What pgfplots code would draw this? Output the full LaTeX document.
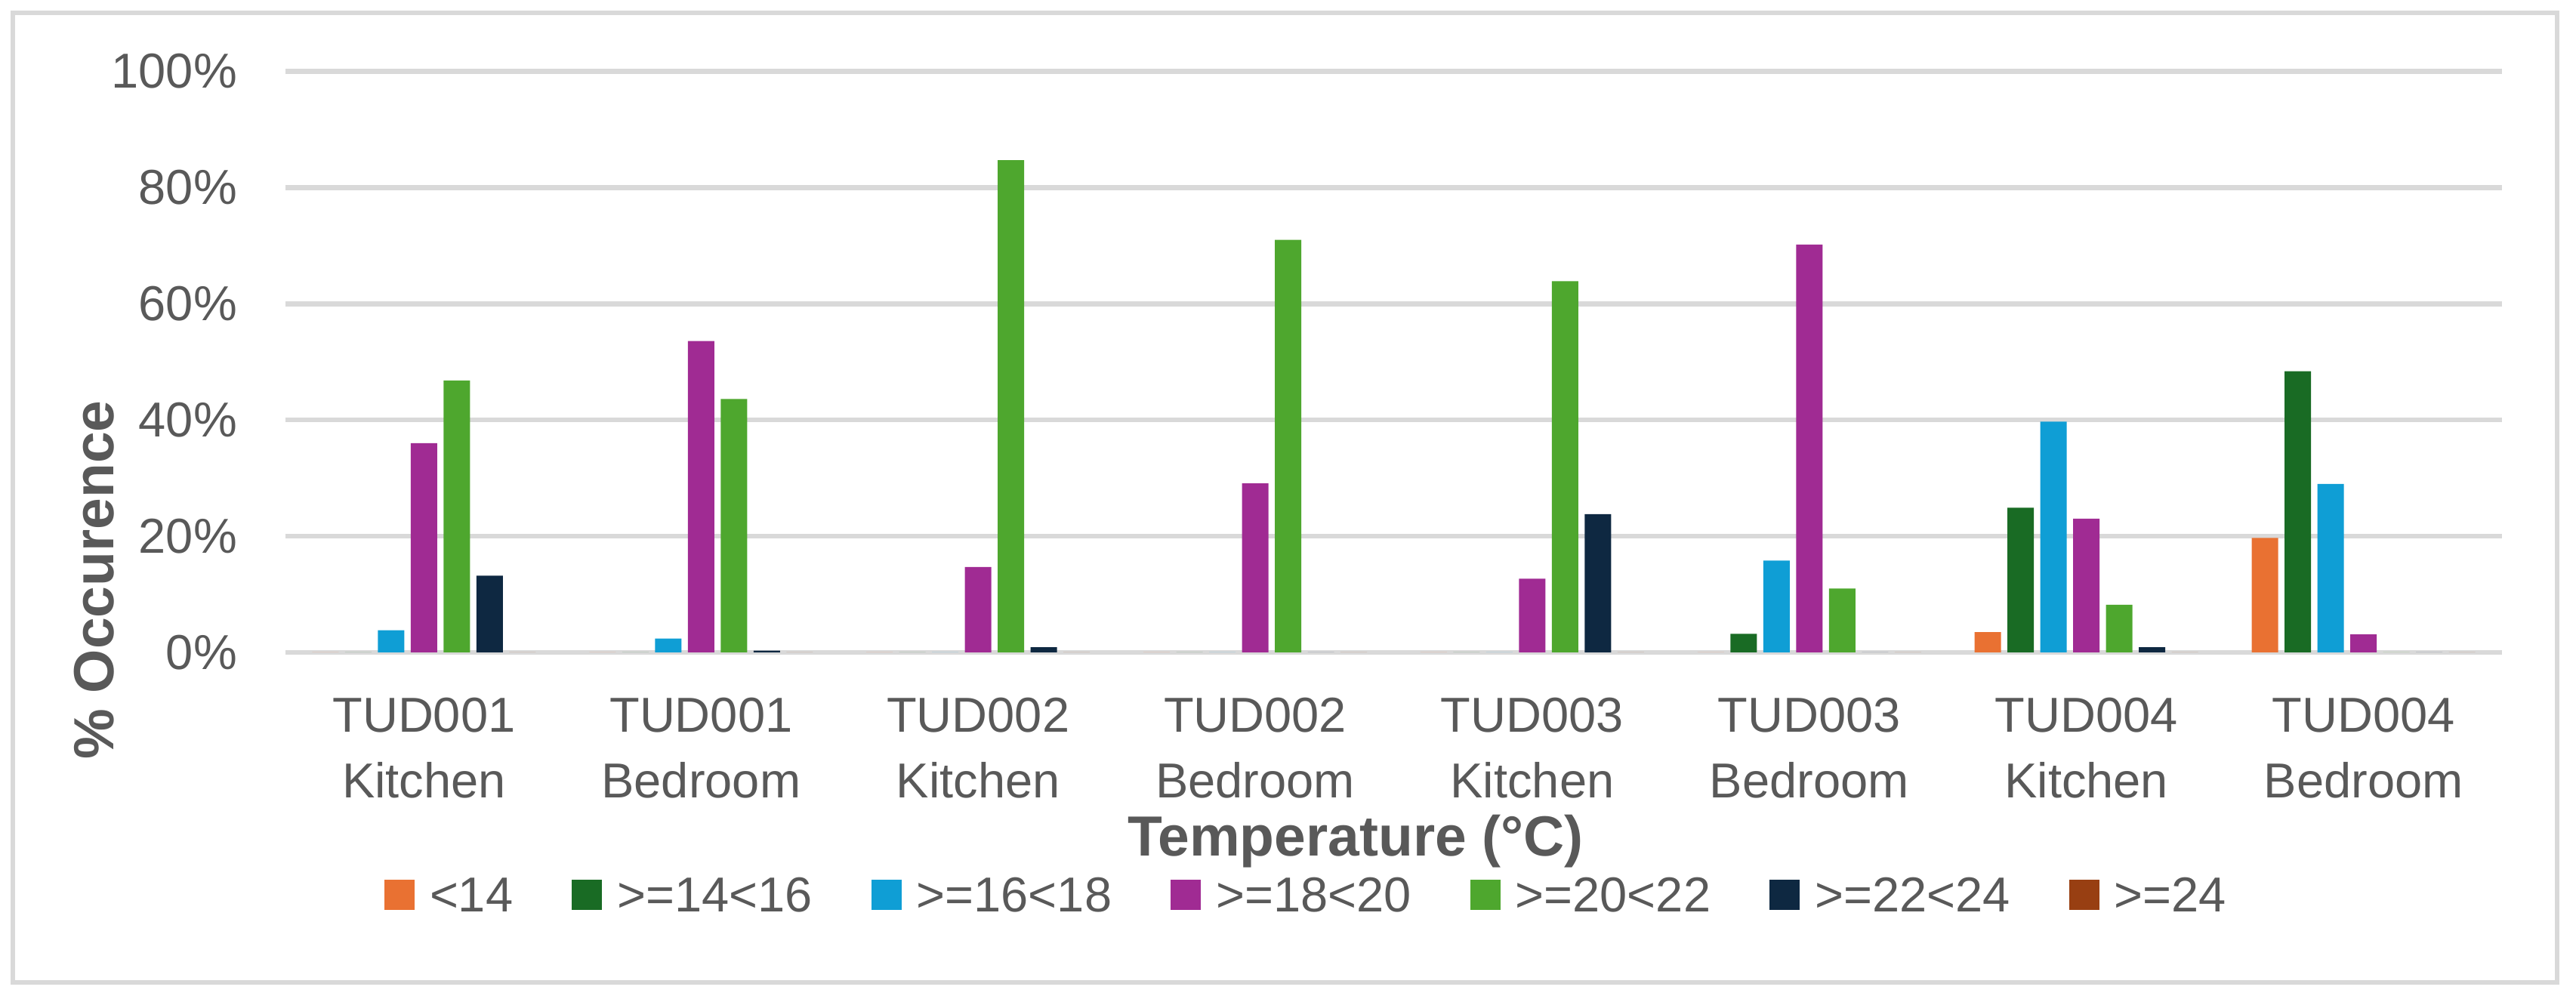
\documentclass[border=0pt]{standalone}
\usepackage{pgfplots}
\pgfplotsset{compat=1.18}
\usepackage{fontspec}
\setmainfont{Liberation Sans}
\definecolor{txt}{HTML}{595959}
\definecolor{gridc}{HTML}{D9D9D9}
\definecolor{cA}{HTML}{E97132}
\definecolor{cB}{HTML}{196B24}
\definecolor{cC}{HTML}{0F9ED5}
\definecolor{cD}{HTML}{A02B93}
\definecolor{cE}{HTML}{4EA72E}
\definecolor{cF}{HTML}{0E2841}
\definecolor{cG}{HTML}{983F12}
\pgfplotsset{sq/.style={draw=none, fill=#1, legend image code/.code={\fill[#1] (0pt,-3.2pt) rectangle (8pt,4.8pt);}}}
\begin{document}
\begin{tikzpicture}
\useasboundingbox (0,0) rectangle (682.2pt,263.8pt);
\draw[gridc, line width=1.3pt] (3.4pt,3.6pt) rectangle (677.2pt,260.4pt);
\begin{axis}[
  at={(75.6pt,91pt)}, anchor=south west,
  width=587pt, height=153.9pt, scale only axis,
  xmin=-0.5, xmax=7.5, ymin=0, ymax=100,
  ybar=1.7pt, bar width=7pt,
  axis line style={draw=none},
  major tick length=0pt,
  ymajorgrids, grid style={gridc, line width=1.3pt},
  ytick={0,20,40,60,80,100},
  yticklabels={0\%,20\%,40\%,60\%,80\%,100\%},
  xtick={0,1,2,3,4,5,6,7},
  xticklabels={{TUD001\\Kitchen},{TUD001\\Bedroom},{TUD002\\Kitchen},{TUD002\\Bedroom},{TUD003\\Kitchen},{TUD003\\Bedroom},{TUD004\\Kitchen},{TUD004\\Bedroom}},
  tick label style={text=txt},
  yticklabel style={font=\fontsize{13}{15}\selectfont, xshift=-9.3pt},
  xticklabel style={font=\fontsize{13}{17.4}\selectfont, align=center, yshift=-8.5pt},
  xlabel={Temperature (°C)},
  xlabel style={at={(axis description cs:0.4828,-0.3496)}, anchor=base, font=\bfseries\fontsize{15}{18}\selectfont, text=txt},
  ylabel={\% Occurence},
  ylabel style={at={(axis description cs:-0.0862,0.1248)}, anchor=center, font=\bfseries\fontsize{15}{18}\selectfont, text=txt},
  legend columns=7,
  legend cell align=left,
  legend style={draw=none, fill=none, inner sep=0pt, at={(axis description cs:0.0443,-0.458)}, anchor=south west,
    font=\fontsize{13}{15}\selectfont, text=txt, nodes={inner sep=0pt},
    /tikz/every even column/.append style={column sep=15.6pt},
    /tikz/every odd column/.append style={column sep=4pt}},
]
\addplot[sq=cA] coordinates {(0,0) (1,0) (2,0) (3,0) (4,0) (5,0) (6,3.5) (7,19.7)};
\addplot[sq=cB] coordinates {(0,0) (1,0) (2,0) (3,0) (4,0) (5,3.2) (6,24.9) (7,48.4)};
\addplot[sq=cC] coordinates {(0,3.8) (1,2.4) (2,0) (3,0) (4,0) (5,15.8) (6,39.7) (7,29.0)};
\addplot[sq=cD] coordinates {(0,36.0) (1,53.6) (2,14.7) (3,29.1) (4,12.7) (5,70.2) (6,23.0) (7,3.1)};
\addplot[sq=cE] coordinates {(0,46.8) (1,43.6) (2,84.7) (3,71.0) (4,63.9) (5,11.0) (6,8.2) (7,0)};
\addplot[sq=cF] coordinates {(0,13.2) (1,0.3) (2,0.9) (3,0) (4,23.8) (5,0) (6,0.9) (7,0)};
\addplot[sq=cG] coordinates {(0,0) (1,0) (2,0) (3,0) (4,0) (5,0) (6,0) (7,0)};
\legend{<14,>=14<16,>=16<18,>=18<20,>=20<22,>=22<24,>=24}
\end{axis}
\end{tikzpicture}
\end{document}
